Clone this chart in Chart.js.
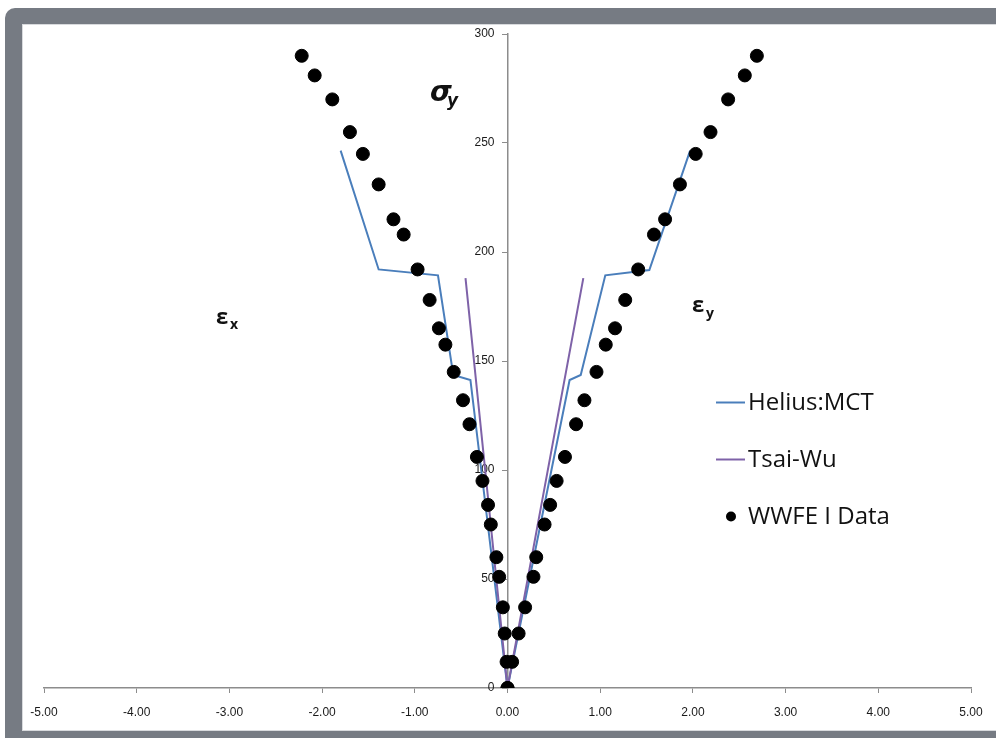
<!DOCTYPE html>
<html>
<head>
<meta charset="utf-8">
<script src="https://cdn.jsdelivr.net/npm/chart.js@4.4.1/dist/chart.umd.min.js"></script>
<style>
  html, body { margin: 0; padding: 0; background: #fff; width: 996px; height: 738px; overflow: hidden; }
  .frame { position: absolute; left: 5px; top: 8px; width: 1000px; height: 740px; background: #767b83; border-top-left-radius: 10px; }
  .inner { position: absolute; left: 22px; top: 24px; width: 980px; height: 707px; background: #fff; border: 1px solid #d8dadd; box-sizing: border-box; }
  #chart { position: absolute; left: 0; top: 0; }
</style>
</head>
<body>
<div class="frame"></div>
<div class="inner"></div>
<canvas id="chart" width="996" height="738"></canvas>
<script>
// WWFE I test data: same stress levels on both branches
const wwfeStress = [290, 281, 270, 255, 245, 231, 215, 208, 192, 178, 165, 157.5, 145, 132, 121, 106, 95, 84, 75, 60, 51, 37, 25, 12, 0];
const wwfeEpsX = [-2.22, -2.08, -1.89, -1.70, -1.56, -1.39, -1.23, -1.12, -0.97, -0.84, -0.74, -0.67, -0.58, -0.48, -0.41, -0.33, -0.27, -0.21, -0.18, -0.12, -0.09, -0.05, -0.03, -0.01, 0];
const wwfeEpsY = [2.69, 2.56, 2.38, 2.19, 2.03, 1.86, 1.70, 1.58, 1.41, 1.27, 1.16, 1.06, 0.96, 0.83, 0.74, 0.62, 0.53, 0.46, 0.40, 0.31, 0.28, 0.19, 0.12, 0.05, 0];

// Helius:MCT prediction, left branch down to origin then right branch up
const heliusEps = [-1.80, -1.39, -0.75, -0.585, -0.40, 0, 0.67, 0.79, 1.055, 1.53, 1.97];
const heliusStress = [246.5, 192, 189.3, 143.6, 141.3, 0, 141.3, 143.6, 189.3, 191.7, 246.5];

// Tsai-Wu prediction
const tsaiEps = [-0.453, 0, 0.818];
const tsaiStress = [188, 0, 188];

const seriesNames = ['Helius:MCT', 'Tsai-Wu', 'WWFE I Data'];
const seriesColors = ['#4a7ebb', '#7e62a8', '#000000'];

function pts(xs, ys) { return xs.map((x, i) => ({ x: x, y: ys[i] })); }

const wwfePoints = pts(wwfeEpsX, wwfeStress).concat(pts(wwfeEpsY, wwfeStress));

const overlay = {
  id: 'overlay',
  afterDraw(chart) {
    const ctx = chart.ctx;
    ctx.save();
    ctx.fillStyle = '#111';
    ctx.textBaseline = 'alphabetic';
    // axis labels
    ctx.font = 'italic bold 28px "DejaVu Sans"';
    ctx.fillText('σ', 430, 101);
    ctx.font = 'italic bold 17px "DejaVu Sans"';
    ctx.fillText('y', 447, 106);
    ctx.font = 'bold 22px "Open Sans"';
    ctx.fillText('ε', 216, 324);
    ctx.fillText('ε', 692, 312);
    ctx.font = 'bold 14px "Open Sans"';
    ctx.fillText('x', 230, 329);
    ctx.fillText('y', 706, 318);

    // legend
    const rows = [402.5, 459.5, 516.5];
    ctx.font = '24px "Open Sans"';
    ctx.textBaseline = 'middle';
    rows.forEach((y, i) => {
      if (i < 2) {
        ctx.strokeStyle = seriesColors[i];
        ctx.lineWidth = 2;
        ctx.beginPath();
        ctx.moveTo(716, y);
        ctx.lineTo(745, y);
        ctx.stroke();
      } else {
        ctx.fillStyle = seriesColors[i];
        ctx.beginPath();
        ctx.arc(731, y, 5, 0, Math.PI * 2);
        ctx.fill();
      }
      ctx.fillStyle = '#111';
      ctx.fillText(seriesNames[i], 748, y + 1);
    });
    ctx.restore();
  }
};

new Chart(document.getElementById('chart'), {
  type: 'scatter',
  data: {
    datasets: [
      {
        label: seriesNames[0],
        data: pts(heliusEps, heliusStress),
        showLine: true,
        borderColor: seriesColors[0],
        borderWidth: 2,
        pointRadius: 0,
        order: 2
      },
      {
        label: seriesNames[1],
        data: pts(tsaiEps, tsaiStress),
        showLine: true,
        borderColor: seriesColors[1],
        borderWidth: 2,
        pointRadius: 0,
        order: 1
      },
      {
        label: seriesNames[2],
        data: wwfePoints,
        showLine: false,
        backgroundColor: seriesColors[2],
        borderColor: seriesColors[2],
        pointRadius: 6.5,
        order: 0
      }
    ]
  },
  options: {
    responsive: false,
    animation: false,
    layout: { padding: { left: 44, right: 25, top: 34, bottom: 0 } },
    plugins: {
      legend: { display: false },
      tooltip: { enabled: false }
    },
    scales: {
      x: {
        type: 'linear',
        position: 'bottom',
        min: -5,
        max: 5,
        afterFit: s => { s.height = 50; },
        ticks: {
          stepSize: 1,
          padding: 12,
          maxRotation: 0,
          color: '#1a1a1a',
          font: { family: 'Liberation Sans', size: 12 },
          callback: v => v.toFixed(2)
        },
        grid: { drawOnChartArea: false, tickLength: 5, color: '#8c8c8c' },
        border: { color: '#8c8c8c', width: 1.5 }
      },
      y: {
        type: 'linear',
        position: 'center',
        min: 0,
        max: 300,
        ticks: {
          stepSize: 50,
          padding: 8,
          color: '#1a1a1a',
          font: { family: 'Liberation Sans', size: 12 }
        },
        grid: { drawOnChartArea: false, tickLength: 5, color: '#8c8c8c' },
        border: { color: '#8c8c8c', width: 1.5 }
      }
    }
  },
  plugins: [overlay]
});
</script>
</body>
</html>
